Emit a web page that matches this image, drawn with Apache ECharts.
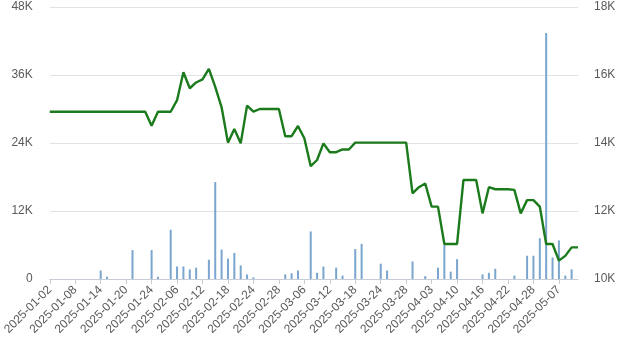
<!DOCTYPE html>
<html>
<head>
<meta charset="utf-8">
<script src="https://cdn.jsdelivr.net/npm/echarts@6/dist/echarts.min.js"></script>
<style>
html,body{margin:0;padding:0;background:#fff;}
#c{width:630px;height:355px;}
</style>
</head>
<body>
<div id="c"></div>
<script>
const dates = [
"2025-01-02","2025-01-03","2025-01-06","2025-01-07","2025-01-08","2025-01-09","2025-01-10","2025-01-13","2025-01-14","2025-01-15",
"2025-01-16","2025-01-17","2025-01-20","2025-01-21","2025-01-22","2025-01-23","2025-01-24","2025-01-26","2025-01-27","2025-02-05",
"2025-02-06","2025-02-07","2025-02-10","2025-02-11","2025-02-12","2025-02-13","2025-02-14","2025-02-17","2025-02-18","2025-02-19",
"2025-02-20","2025-02-21","2025-02-24","2025-02-25","2025-02-26","2025-02-27","2025-02-28","2025-03-03","2025-03-04","2025-03-05",
"2025-03-06","2025-03-07","2025-03-10","2025-03-11","2025-03-12","2025-03-13","2025-03-14","2025-03-17","2025-03-18","2025-03-19",
"2025-03-20","2025-03-21","2025-03-24","2025-03-25","2025-03-26","2025-03-27","2025-03-28","2025-03-31","2025-04-01","2025-04-02",
"2025-04-03","2025-04-07","2025-04-08","2025-04-09","2025-04-10","2025-04-11","2025-04-14","2025-04-15","2025-04-16","2025-04-17",
"2025-04-18","2025-04-21","2025-04-22","2025-04-23","2025-04-24","2025-04-25","2025-04-28","2025-04-29","2025-04-30","2025-05-06",
"2025-05-07","2025-05-08","2025-05-09","2025-05-12"
];
const volume = [
0,0,0,0,0,0,0,0,1500,400,
0,0,0,5100,0,0,5100,400,0,8700,
2200,2200,1700,2000,0,3400,17100,5200,3600,4600,
2400,800,300,0,0,0,0,800,1000,1500,
0,8400,1100,2200,0,2000,600,0,5300,6200,
0,0,2700,1500,0,0,0,3100,0,500,
0,2000,6000,1300,3500,0,0,0,800,1100,
1800,0,0,600,0,4100,4100,7200,43400,3800,
6800,600,1700,0
];
const price = [
14920,14920,14920,14920,14920,14920,14920,14920,14920,14920,
14920,14920,14920,14920,14920,14920,14510,14920,14920,14920,
15260,16080,15610,15780,15870,16180,15650,15050,14010,14410,
13990,15100,14920,15000,15000,15000,15000,14200,14200,14500,
14140,13320,13500,13990,13730,13730,13810,13810,14010,14010,
14010,14010,14010,14010,14010,14010,14010,12520,12700,12810,
12130,12130,11030,11030,11030,12910,12910,12910,11930,12700,
12640,12640,12640,12620,11930,12320,12320,12130,11030,11030,
10540,10680,10930,10930
];
const fmtK = v => v === 0 ? '0' : (v / 1000) + 'K';

const chart = echarts.init(document.getElementById('c'), null, {renderer: 'canvas'});
chart.setOption({
  animation: false,
  backgroundColor: '#fff',
  grid: {left: 49, right: 52, top: 7, bottom: 76, containLabel: false},
  xAxis: {
    type: 'category',
    data: dates,
    boundaryGap: false,
    axisLine: {lineStyle: {color: '#c8ccd4'}},
    axisTick: {show: true, interval: 3, length: 5, lineStyle: {color: '#c8ccd4'}},
    axisLabel: {interval: 3, rotate: 45, margin: 9, color: '#5a5a5a', fontSize: 12, fontFamily: 'Liberation Sans'},
    splitLine: {show: false}
  },
  yAxis: [
    {
      type: 'value', min: 0, max: 48000, interval: 12000,
      axisLine: {show: false}, axisTick: {show: false},
      axisLabel: {formatter: fmtK, margin: 17, color: '#5a5a5a', fontSize: 12, fontFamily: 'Liberation Sans'},
      splitLine: {lineStyle: {color: '#e3e3e3'}}
    },
    {
      type: 'value', min: 10000, max: 18000, interval: 2000, position: 'right',
      axisLine: {show: false}, axisTick: {show: false},
      axisLabel: {formatter: fmtK, margin: 16, color: '#5a5a5a', fontSize: 12, fontFamily: 'Liberation Sans'},
      splitLine: {show: false}
    }
  ],
  series: [
    {
      type: 'bar', yAxisIndex: 0, data: volume, barWidth: 2,
      itemStyle: {color: '#7aa5cf'}
    },
    {
      type: 'line', yAxisIndex: 1, data: price, showSymbol: false, symbol: 'none',
      lineStyle: {color: '#1b7a1b', width: 2.4}, z: 3
    }
  ]
});
</script>
</body>
</html>
